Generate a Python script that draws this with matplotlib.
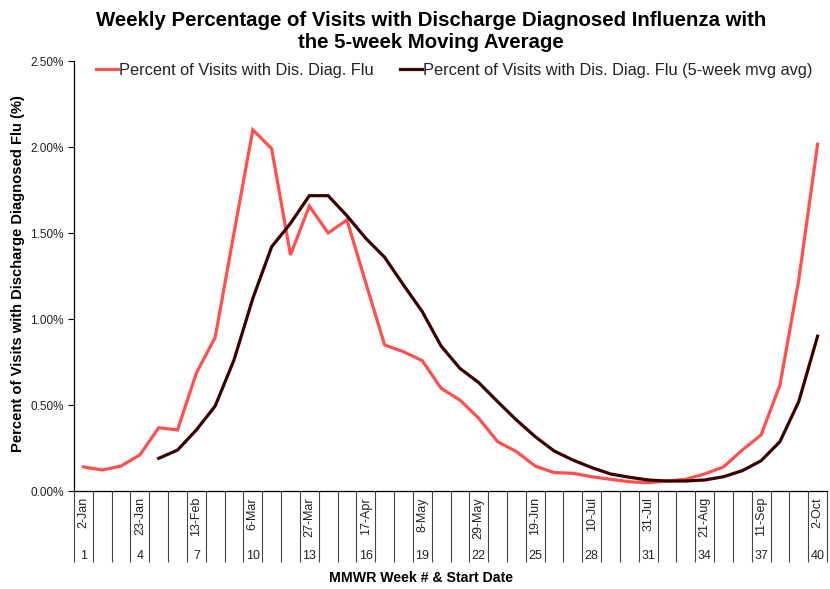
import matplotlib
matplotlib.use("Agg")
import matplotlib.pyplot as plt
from matplotlib.ticker import FuncFormatter, FixedLocator
import matplotlib.transforms as mtransforms

weeks = list(range(1, 41))
pct_flu = [0.140, 0.122, 0.145, 0.210, 0.368, 0.355, 0.686, 0.893, 1.500, 2.100,
           1.990, 1.372, 1.657, 1.500, 1.576, 1.210, 0.849, 0.810, 0.758, 0.597,
           0.529, 0.423, 0.287, 0.229, 0.145, 0.107, 0.103, 0.083, 0.068, 0.054,
           0.048, 0.058, 0.068, 0.099, 0.140, 0.238, 0.326, 0.616, 1.227, 2.016]
mvg_weeks = list(range(5, 41))
pct_mvg = [0.190, 0.238, 0.355, 0.494, 0.762, 1.120, 1.420, 1.556, 1.717, 1.717,
           1.600, 1.469, 1.359, 1.198, 1.043, 0.843, 0.713, 0.630, 0.520, 0.413,
           0.316, 0.233, 0.180, 0.136, 0.099, 0.080, 0.064, 0.058, 0.058, 0.064,
           0.083, 0.118, 0.176, 0.287, 0.520, 0.900]
label_weeks = [1, 4, 7, 10, 13, 16, 19, 22, 25, 28, 31, 34, 37, 40]
label_dates = ["2-Jan", "23-Jan", "13-Feb", "6-Mar", "27-Mar", "17-Apr", "8-May",
               "29-May", "19-Jun", "10-Jul", "31-Jul", "21-Aug", "11-Sep", "2-Oct"]
y_ticks = [0.0, 0.5, 1.0, 1.5, 2.0, 2.5]

REG = ["Liberation Sans", "DejaVu Sans"]
plt.rcParams['font.family'] = REG

fig = plt.figure(figsize=(8.3, 5.89), dpi=100)
ax = fig.add_axes([74/830, 1-491/589, 753/830, 430/589])

red = "#FF4F4F"
dark = "#3A0000"
ax.plot(weeks, pct_flu, color=red, lw=2.3, solid_joinstyle='miter',
        label="Percent of Visits with Dis. Diag. Flu")
ax.plot(mvg_weeks, pct_mvg, color=dark, lw=2.3, solid_joinstyle='miter',
        label="Percent of Visits with Dis. Diag. Flu (5-week mvg avg)")

ax.set_xlim(0.5, 40.5)
ax.set_ylim(0, 2.5)
ax.yaxis.set_major_locator(FixedLocator(y_ticks))
ax.yaxis.set_major_formatter(FuncFormatter(lambda v, p: f"{v:.2f}%"))
ax.tick_params(axis='y', direction='out', length=4.5, width=0.8, labelsize=8.5, pad=3,
               labelcolor='#222222')

for s in ['top', 'right']:
    ax.spines[s].set_visible(False)
for s in ['left', 'bottom']:
    ax.spines[s].set_linewidth(0.9)
    ax.spines[s].set_color('black')

# category boundaries as long minor ticks
bounds = [w - 0.5 for w in weeks] + [40.5]
ax.xaxis.set_major_locator(FixedLocator([]))
ax.xaxis.set_minor_locator(FixedLocator(bounds))
ax.tick_params(axis='x', which='minor', direction='out', length=71/1.389, width=0.8, color='#444444')
ax.tick_params(axis='x', which='major', length=0)

trans = mtransforms.blended_transform_factory(ax.transData, fig.transFigure)
for w, d in zip(label_weeks, label_dates):
    ax.text(w, 1-497/589, d, transform=trans, rotation=90, ha='center', va='top',
            fontsize=9, family=REG, color='#222222')
    ax.text(w, 1-556/589, str(w), transform=trans, ha='center', va='center',
            fontsize=9, family=REG, color='#222222')

leg = ax.legend(loc='center left', bbox_to_anchor=(0.029, 0.979), ncol=2, frameon=False,
                fontsize=11.8, handlelength=1.34, handletextpad=0.05, columnspacing=1.65,
                borderpad=0, borderaxespad=0)
for t in leg.get_texts():
    t.set_color('#222222')

fig.text(431/830, 1-20/589, "Weekly Percentage of Visits with Discharge Diagnosed Influenza with",
         ha='center', va='center', fontsize=14.7, fontweight='bold', family=REG)
fig.text(431/830, 1-43/589, "the 5-week Moving Average",
         ha='center', va='center', fontsize=14.7, fontweight='bold', family=REG)
fig.text(18/830, 1-274/589, "Percent of Visits with Discharge Diagnosed Flu (%)",
         ha='center', va='center', rotation=90, fontsize=10.6, fontweight='bold', family=REG)
fig.text(421/830, 1-578/589, "MMWR Week # & Start Date",
         ha='center', va='center', fontsize=10.2, fontweight='bold', family=REG)

fig.savefig("out.png", dpi=100)
